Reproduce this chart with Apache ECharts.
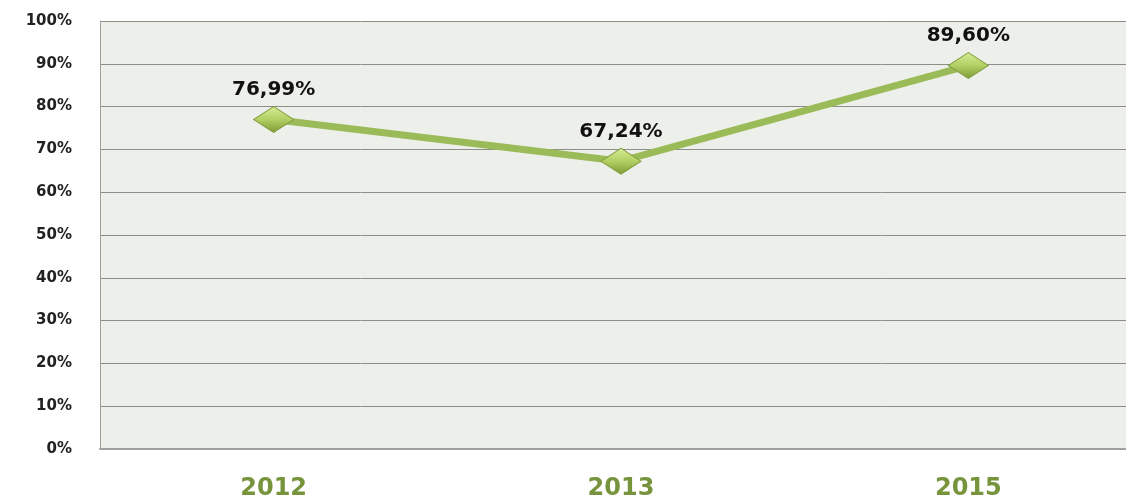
<!DOCTYPE html>
<html>
<head>
<meta charset="utf-8">
<script src="https://cdn.jsdelivr.net/npm/echarts@6/dist/echarts.min.js"></script>
<style>
html,body{margin:0;padding:0;background:#fff;overflow:hidden;width:1126px;height:499px;}
#chart{width:1142px;height:499px;}
</style>
</head>
<body>
<div id="chart"></div>
<script>
var categories = ['2012', '2013', '2015'];
var values = [76.99, 67.24, 89.60];
var yTicks = [0, 10, 20, 30, 40, 50, 60, 70, 80, 90, 100];

var chart = echarts.init(document.getElementById('chart'), null, {renderer: 'canvas'});
var option = {
  animation: false,
  backgroundColor: '#ffffff',
  grid: {
    left: 100, top: 21, right: 0, bottom: 50,
    outerBoundsMode: 'none', containLabel: false,
    show: true, backgroundColor: '#edf0ea', borderWidth: 0
  },
  xAxis: {
    type: 'category',
    data: categories,
    boundaryGap: true,
    axisLine: {show: true, lineStyle: {color: '#a0a0a0', width: 2}},
    axisTick: {show: false},
    axisLabel: {
      margin: 28, color: '#77933c', fontSize: 24, fontWeight: 'bold',
      fontFamily: 'DejaVu Sans'
    }
  },
  yAxis: {
    type: 'value',
    min: yTicks[0], max: yTicks[yTicks.length - 1], interval: 10,
    axisLine: {show: true, lineStyle: {color: '#a0a0a0', width: 1}},
    axisTick: {show: false},
    splitLine: {show: true, lineStyle: {color: '#8e8e88', width: 1}},
    axisLabel: {
      margin: 28, color: '#222', fontSize: 15, fontWeight: 'bold',
      fontFamily: 'DejaVu Sans',
      formatter: function (v) { return v + '%'; }
    }
  },
  series: [{
    type: 'line',
    data: values,
    symbol: 'diamond',
    symbolSize: [40, 26],
    lineStyle: {color: '#9bbb59', width: 7},
    itemStyle: {
      color: new echarts.graphic.LinearGradient(0, 0, 0, 1, [
        {offset: 0, color: '#d8ee98'},
        {offset: 0.5, color: '#b1cf63'},
        {offset: 1, color: '#7e9a35'}
      ]),
      borderColor: '#7f9a3a', borderWidth: 1
    },
    label: {
      show: true, position: 'top', distance: 6,
      color: '#111', fontSize: 20, fontWeight: 'bold', fontFamily: 'DejaVu Sans',
      formatter: function (p) { return p.value.toFixed(2).replace('.', ',') + '%'; }
    },
    z: 3
  }]
};
chart.setOption(option);
</script>
</body>
</html>
